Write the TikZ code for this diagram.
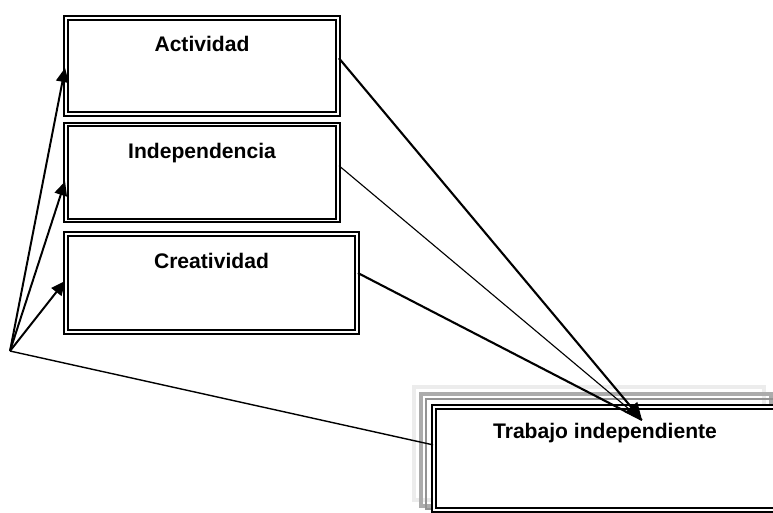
\documentclass[tikz,border=0pt]{standalone}
\usepackage{fontspec}
\setmainfont{Liberation Sans}
\usetikzlibrary{arrows.meta,fit,calc}

\tikzset{
  caja/.style={draw, double, line width=1.3pt, double distance=1.4pt, fill=white, inner sep=0pt},
  titulo/.style={font=\fontsize{15}{18}\selectfont\bfseries, anchor=base},
  punta/.style={-{Triangle[length=10pt,width=9pt]}},
  puntagrande/.style={-{Triangle[length=12pt,width=11pt]}},
}

\begin{document}
\begin{tikzpicture}[x=0.025cm, y=-0.025cm]
        \useasboundingbox (0,0) rectangle (773,512);

        % Cajas de la izquierda
        \node[caja, fit={(66,18) (338,114)}] (act) {};
        \node[caja, fit={(66,124.5) (338,220.5)}] (ind) {};
        \node[caja, fit={(66,234) (357,332)}] (cre) {};

        % Sombras y caja del trabajo independiente
        \draw[gray!15, line width=3pt] (414,387) rectangle (764,500);
        \draw[gray!65, line width=3pt] (421,394) rectangle (771,506);
        \draw[gray!85, line width=2pt] (426,399) rectangle (774,509);
        \node[caja, fit={(434,407) (776,510)}] (trab) {};

        % Etiquetas de las cajas
        \node[titulo] (tact) at ($(act.north)+(0,34)$) {Actividad};
        \node[titulo] (tind) at ($(ind.north)+(0,34.5)$) {Independencia};
        \node[titulo] (tcre) at ($(cre.north)+(0,35)$) {Creatividad};
        \node[titulo] (ttrab) at ($(trab.north)+(0,32)$) {Trabajo independiente};

        % Punto de partida y llegada
        \coordinate (origen) at (10,351);
        \coordinate (meta) at (642,420);

        % Flechas hacia las cajas de la izquierda
        \draw[line width=1.4pt, punta] (origen) -- ($(act.north west)!0.52!(act.south west)$);
        \draw[line width=1.4pt, punta] (origen) -- ($(ind.north west)!0.59!(ind.south west)$);
        \draw[line width=1.4pt, punta] (origen) -- ($(cre.north west)!0.48!(cre.south west)$);
        \draw[line width=1pt] (origen) -- ($(trab.north west)!0.37!(trab.south west)$);

        % Lineas hacia el trabajo independiente
        \draw[line width=0.8pt] ($(ind.north east)!0.43!(ind.south east)$) -- (meta);
        \draw[line width=1.5pt] ($(cre.north east)!0.40!(cre.south east)$) -- (meta);
        \draw[line width=1.5pt, puntagrande] ($(act.north east)!0.42!(act.south east)$) -- (meta);

    \end{tikzpicture}
\end{document}
